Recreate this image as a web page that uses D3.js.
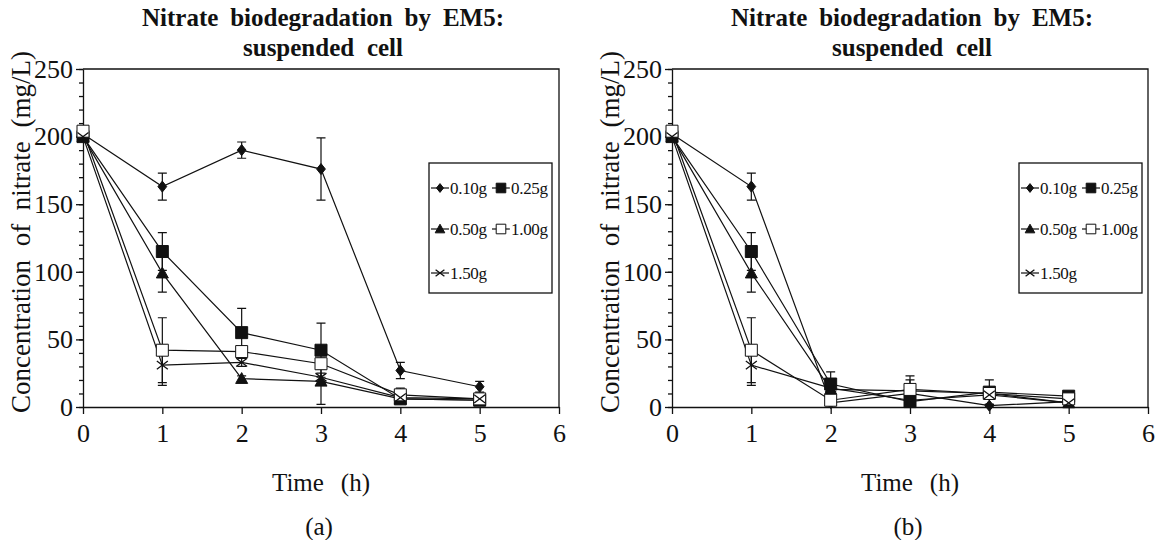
<!DOCTYPE html>
<html>
<head>
<meta charset="utf-8">
<script src="https://cdn.jsdelivr.net/npm/d3@7"></script>
<style>
  body { margin: 0; background: #fff; }
  svg text { font-family: "Liberation Serif", serif; fill: #111; }
</style>
</head>
<body>
<div id="chart"></div>
<script>
// time points (h)
const times = [0, 1, 2, 3, 4, 5];
const doses = ["0.10g", "0.25g", "0.50g", "1.00g", "1.50g"];
const xTicks = [0, 1, 2, 3, 4, 5, 6];
const yTicks = [0, 50, 100, 150, 200, 250];
const panelTitle = ["Nitrate biodegradation by EM5:", "suspended cell"];
const panelTags = ["(a)", "(b)"];

// panel (a) - mean nitrate (mg/L) per dose
const valuesA = [
    [202, 163, 190, 176, 27, 15],
    [200, 115, 55, 42, 6, 5],
    [200, 99, 21, 19, 6, 5],
    [204, 42, 41, 32, 9, 6],
    [200, 31, 33, 22, 7, 6]
];
const errorsA = [
    [0, 10, 6, 23, 6, 4],
    [0, 14, 18, 20, 2, 2],
    [0, 14, 2, 17, 2, 2],
    [0, 24, 3, 4, 5, 2],
    [0, 15, 3, 3, 2, 4]
];

// panel (b)
const valuesB = [
    [202, 163, 3, 10, 1, 4],
    [200, 115, 17, 4, 11, 8],
    [200, 99, 13, 12, 10, 3],
    [204, 42, 5, 13, 10, 6],
    [200, 31, 14, 5, 9, 3]
];
const errorsB = [
    [0, 10, 2, 3, 1, 2],
    [0, 14, 9, 3, 9, 3],
    [0, 14, 3, 11, 2, 1],
    [0, 24, 2, 7, 2, 2],
    [0, 15, 2, 2, 2, 1]
];

const W = 1163, H = 540;
const svg = d3.select('#chart').append('svg')
    .attr('width', W)
    .attr('height', H);

// marker path for each dose (diamond, filled sq, triangle, open sq, cross)
function markerPath(i, s) {
    if (i === 0) return `M0,${-s}L${s * 0.8},0L0,${s}L${-s * 0.8},0Z`;
    if (i === 1 || i === 3) return `M${-s},${-s}H${s}V${s}H${-s}Z`;
    if (i === 2) return `M0,${-s}L${s},${s * 0.8}H${-s}Z`;
    return `M${-s},${-s * 0.75}L${s},${s * 0.75}M${-s},${s * 0.75}L${s},${-s * 0.75}`;
}
const markerSize = [5.5, 6, 6, 6, 5.5];
const markerFill = ["#111", "#111", "#111", "#fff", "none"];

// stretch word gaps so a label fills a given length
function fitWords(sel, len) {
    const n = sel.text().split(' ').length - 1;
    const w = sel.node().getComputedTextLength();
    if (n > 0) sel.style('word-spacing', Math.max(0, (len - w) / n) + 'px');
}

function drawPanel(left, right, values, errors, tag, legendX) {
    const top = 69, bottom = 407;
    const x = d3.scaleLinear().domain([0, 6]).range([left, right]);
    const y = d3.scaleLinear().domain([0, 250]).range([bottom, top]);
    const g = svg.append('g');
    const mid = (left + right) / 2;

    // title
    const t1 = g.append('text').attr('x', mid + 2).attr('y', 26)
        .attr('text-anchor', 'middle').attr('font-weight', 'bold')
        .attr('font-size', 25)
        .text(panelTitle[0]);
    fitWords(t1, 362);
    const t2 = g.append('text').attr('x', mid + 2).attr('y', 56)
        .attr('text-anchor', 'middle').attr('font-weight', 'bold')
        .attr('font-size', 25)
        .text(panelTitle[1]);
    fitWords(t2, 160);

    // frame top / right
    g.append('path')
        .attr('d', `M${left},${top}H${right}V${bottom}`)
        .attr('fill', 'none').attr('stroke', '#111').attr('stroke-width', 1.3);

    // minor y ticks
    g.append('g')
        .attr('transform', `translate(${left},0)`)
        .call(d3.axisLeft(y).tickValues(d3.range(0, 251, 10)).tickSize(4).tickFormat(''))
        .call(a => a.select('.domain').remove())
        .call(a => a.selectAll('line').attr('stroke', '#111'));

    const yAxis = g.append('g')
        .attr('transform', `translate(${left},0)`)
        .call(d3.axisLeft(y).tickValues(yTicks).tickSize(7).tickSizeOuter(0).tickPadding(3));
    yAxis.selectAll('text').attr('font-size', 26).style('font-family', '"Liberation Serif", serif');

    const xAxis = g.append('g')
        .attr('transform', `translate(0,${bottom})`)
        .call(d3.axisBottom(x).tickValues(xTicks).tickFormat(d3.format('d'))
            .tickSize(7).tickSizeOuter(0).tickPadding(10));
    xAxis.selectAll('text').attr('font-size', 26).style('font-family', '"Liberation Serif", serif');
    g.selectAll('.domain, .tick line').attr('stroke', '#111').attr('stroke-width', 1.3);

    // axis titles
    const yl = g.append('text')
        .attr('transform', `translate(${left - 53},${(top + bottom) / 2 - 6}) rotate(-90)`)
        .attr('text-anchor', 'middle').attr('font-size', 27)
        .text('Concentration of nitrate (mg/L)');
    fitWords(yl, 362);
    const xl = g.append('text').attr('x', mid).attr('y', 491)
        .attr('text-anchor', 'middle').attr('font-size', 25)
        .text('Time (h)');
    fitWords(xl, 98);
    g.append('text').attr('x', mid - 2).attr('y', 535)
        .attr('text-anchor', 'middle').attr('font-size', 25)
        .text(tag);

    const line = d3.line()
        .x((d, i) => x(times[i]))
        .y(d => y(d));

    values.forEach((vals, s) => {
        g.append('path')
            .datum(vals)
            .attr('d', line)
            .attr('fill', 'none')
            .attr('stroke', '#111')
            .attr('stroke-width', 1.2);
    });

    // error bars
    values.forEach((vals, s) => {
        const eg = g.append('g');
        vals.forEach((v, i) => {
            const e = errors[s][i];
            if (!e) return;
            const cx = x(times[i]);
            eg.append('path')
                .attr('d', `M${cx},${y(v - e)}V${y(v + e)}M${cx - 4.5},${y(v + e)}H${cx + 4.5}M${cx - 4.5},${y(v - e)}H${cx + 4.5}`)
                .attr('stroke', '#111').attr('stroke-width', 1.2).attr('fill', 'none');
        });
    });

    // markers
    values.forEach((vals, s) => {
        g.selectAll(null)
            .data(vals)
            .enter()
            .append('path')
            .attr('transform', (d, i) => `translate(${x(times[i])},${y(d)})`)
            .attr('d', markerPath(s, markerSize[s]))
            .attr('fill', markerFill[s])
            .attr('stroke', '#111')
            .attr('stroke-width', s === 4 ? 1.3 : 1);
    });

    // legend
    const lg = g.append('g').attr('transform', `translate(${legendX},163)`);
    lg.append('rect').attr('width', 123).attr('height', 130)
        .attr('fill', '#fff').attr('stroke', '#111').attr('stroke-width', 1.3);
    const slots = [[0, 25], [61, 25], [0, 66], [61, 66], [0, 110]];
    doses.forEach((name, s) => {
        const [lx, ly] = slots[s];
        const it = lg.append('g').attr('transform', `translate(${lx + 2},${ly})`);
        it.append('line').attr('x1', 0).attr('x2', 18)
            .attr('stroke', '#111').attr('stroke-width', 1.2);
        it.append('path').attr('transform', 'translate(9,0)')
            .attr('d', markerPath(s, markerSize[s] * 0.8))
            .attr('fill', markerFill[s]).attr('stroke', '#111')
            .attr('stroke-width', s === 4 ? 1.3 : 1);
        it.append('text').attr('x', 19).attr('y', 6)
            .attr('font-size', 17).style('letter-spacing', '-0.3px').text(name);
    });
}

drawPanel(83, 559, valuesA, errorsA, panelTags[0], 429);
drawPanel(672, 1148, valuesB, errorsB, panelTags[1], 1019);
</script>
</body>
</html>
